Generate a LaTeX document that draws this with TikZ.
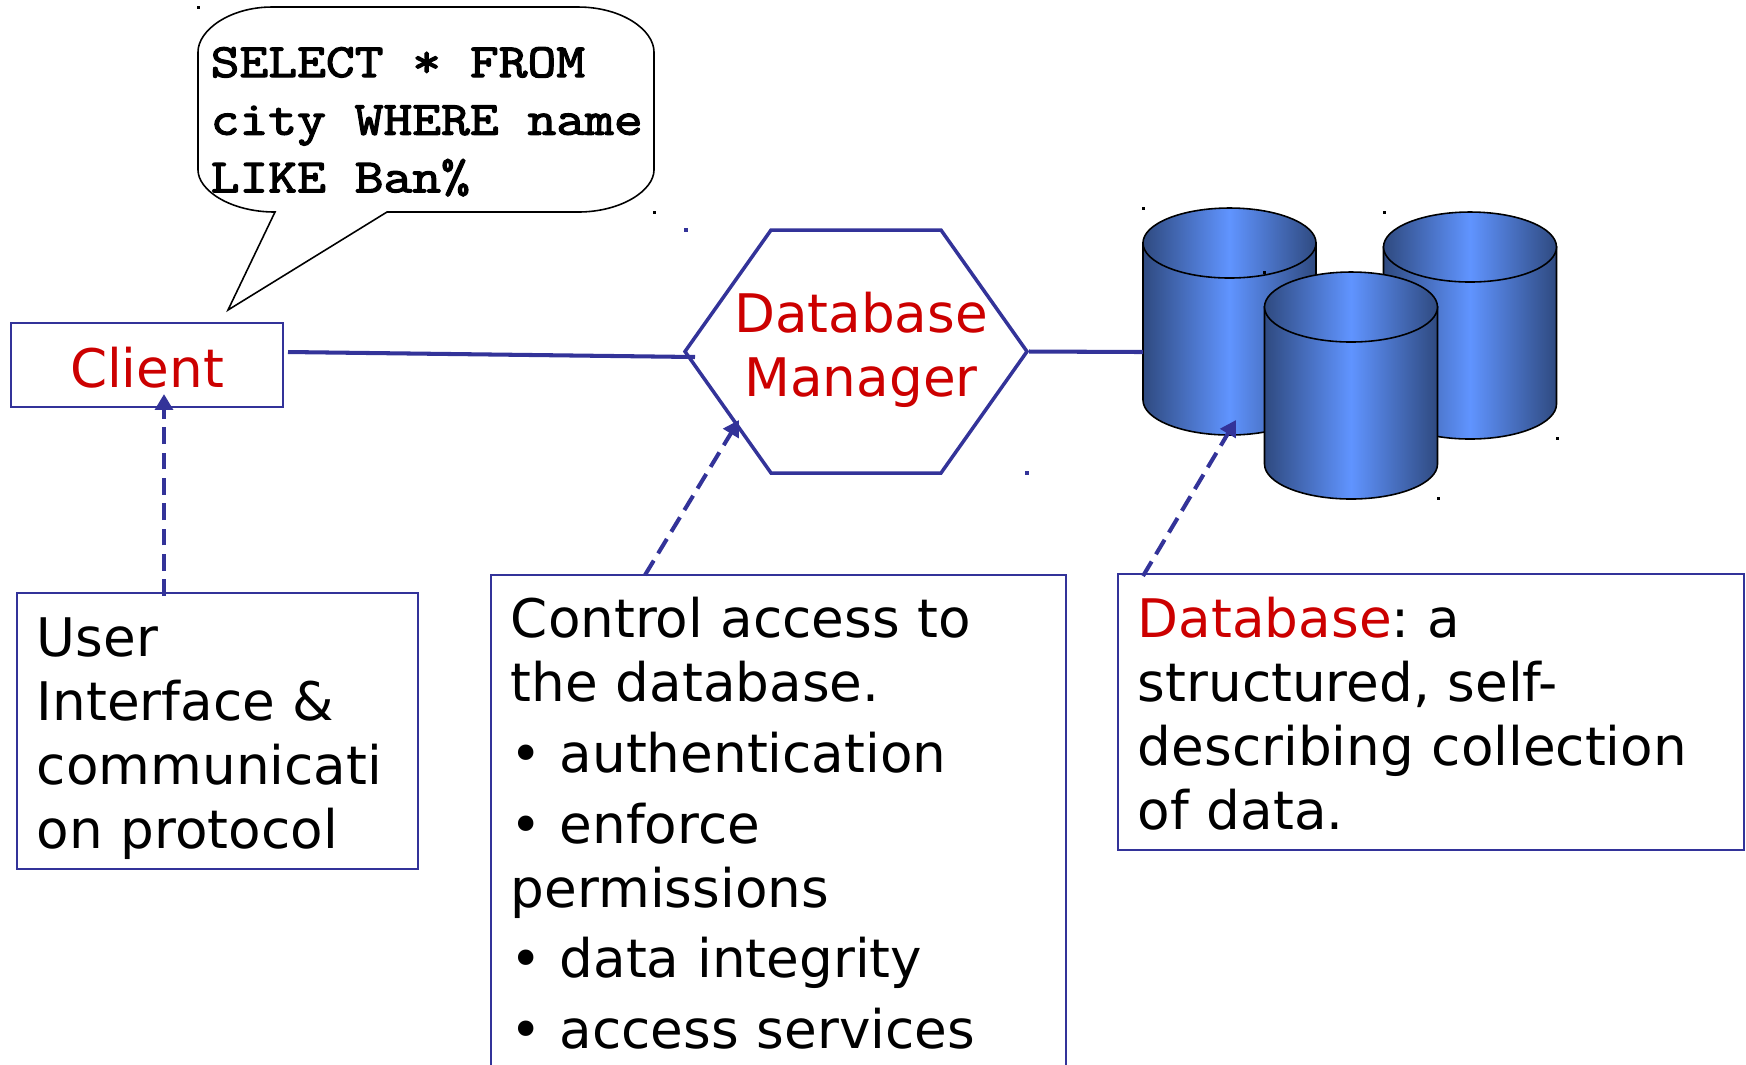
\documentclass[tikz,border=0pt]{standalone}
\usepackage{fontspec}
\setmainfont{DejaVu Sans}
\newfontfamily\sqlfont[FakeStretch=1.17, FakeBold=2.6]{Latin Modern Mono}
\usetikzlibrary{arrows.meta, positioning, shapes.symbols}
\definecolor{edgeblue}{HTML}{333399}
\definecolor{labelred}{HTML}{CC0000}
\definecolor{cyldark}{HTML}{2F4A80}
\definecolor{cyllight}{HTML}{6094FF}
\newcommand{\bul}{\makebox[13.9pt][l]{•}}
\newcommand{\firstrow}[1]{\rule{0pt}{#1}}
\newcommand{\lastrow}[1]{\rule[-#1]{0pt}{#1}}

\begin{document}
\frenchspacing
\begin{tikzpicture}[
    bodytext/.style={font=\fontsize{15.13}{18.2}\selectfont},
    notebox/.style={rectangle, draw=edgeblue, line width=0.55pt, anchor=north west, align=left, inner xsep=0.2cm, inner ysep=0pt, bodytext},
    clientbox/.style={rectangle, draw=edgeblue, line width=0.55pt, anchor=center, minimum width=2.72cm, minimum height=0.84cm, inner sep=0pt, text=labelred, bodytext},
    managerbox/.style={signal, signal to=east and west, signal pointer angle=109.4, draw=edgeblue, line width=1pt, minimum width=3.42cm, minimum height=2.43cm, inner sep=0pt},
    managerlabel/.style={align=center, inner sep=0pt, text=labelred, bodytext},
    link/.style={draw=edgeblue, line width=1.15pt},
    dasharrow/.style={draw=edgeblue, line width=1.15pt, dash pattern=on 4.8pt off 2.4pt, -{Triangle[length=4.5pt, width=5pt, fill=edgeblue]}},
    cyl/.style={draw=black, line width=0.45pt, left color=cyldark, right color=cyldark, middle color=cyllight}
]
    \useasboundingbox (0,0) rectangle (17.46,-10.64);
    \clip (0,0) rectangle (17.46,-10.64);

    % Speech bubble with the query
    \draw[black, line width=0.45pt, fill=white] (2.75,-2.12) -- (2.28,-3.10) -- (3.87,-2.12) -- (5.78,-2.12)
        .. controls (6.22,-2.12) and (6.54,-1.90) .. (6.54,-1.70) -- (6.54,-0.52)
        .. controls (6.54,-0.30) and (6.22,-0.07) .. (5.78,-0.07) -- (2.72,-0.07)
        .. controls (2.30,-0.07) and (1.98,-0.30) .. (1.98,-0.52) -- (1.98,-1.70)
        .. controls (1.98,-1.90) and (2.30,-2.12) .. (2.75,-2.12) -- cycle;
    \node[anchor=north west, align=left, inner sep=0pt, font=\fontsize{13.6}{16.4}\selectfont\sqlfont] (query) at (2.10,-0.465) {SELECT * FROM\\city WHERE name\\LIKE Ban\%};

    % Three cylinders, the middle one last
    \foreach \cx/\ry in {12.295/2.43, 14.70/2.47, 13.51/3.07} {
        \draw[cyl] (\cx-0.865,-\ry) -- (\cx-0.865,-\ry-1.57) arc[start angle=180, end angle=360, x radius=0.865, y radius=0.35] -- (\cx+0.865,-\ry) -- cycle;
        \draw[cyl] (\cx,-\ry) ellipse[x radius=0.865, y radius=0.35];
    }

    % Main row
    \node[clientbox] (client) at (1.47,-3.65) {\rule{0pt}{0.45cm}Client};
    \node[managerbox] (manager) at (8.56,-3.515) {};
    \node[managerlabel] (managertext) at (8.61,-3.50) {Database\\Manager};
    \coordinate (clientport) at (2.88,-3.52);
    \coordinate (managerport) at (6.95,-3.57);
    \coordinate (dbport) at (11.43,-3.52);
    \draw[link] (clientport) -- (managerport);
    \draw[link] (manager.east) -- (dbport);

    % Note boxes
    \node[notebox, text width=3.61cm] (uinote) at (0.16,-5.92) {\firstrow{0.64cm}User\\Interface \&\\communicati\\on protocol\lastrow{0.20cm}};
    \node[notebox, text width=5.35cm] (controlnote) at (4.90,-5.74) {\firstrow{0.63cm}Control access to\\the database.\\[1.9pt]\bul authentication\\[1.9pt]\bul enforce\\permissions\\[1.9pt]\bul data integrity\\[1.9pt]\bul access services\lastrow{0.60cm}};
    \node[notebox, text width=5.86cm] (dbnote) at (11.17,-5.73) {\firstrow{0.64cm}\textcolor{labelred}{Database}: a\\structured, self-\\describing collection\\of data.\lastrow{0.20cm}};

    % Dashed pointers from the notes
    \coordinate (clientmark) at (1.64,-3.94);
    \coordinate (managermark) at (7.39,-4.20);
    \coordinate (dbmark) at (12.36,-4.20);
    \draw[dasharrow] (uinote.north -| clientmark) ++(0,-0.04) -- (clientmark);
    \draw[dasharrow] (6.45,-5.75) -- (managermark);
    \draw[dasharrow] (11.43,-5.76) -- (dbmark);

    % Small handle marks left on the picture
    \foreach \hx/\hy in {1.98/-0.07, 6.54/-2.12, 11.43/-2.08, 13.84/-2.12, 12.64/-2.72, 15.57/-4.38, 14.38/-4.98}
        \fill[black] (\hx-0.015,\hy-0.015) rectangle (\hx+0.015,\hy+0.015);
    \foreach \hx/\hy in {6.86/-2.30, 10.27/-4.73}
        \fill[edgeblue] (\hx-0.02,\hy-0.02) rectangle (\hx+0.02,\hy+0.02);
\end{tikzpicture}
\end{document}
